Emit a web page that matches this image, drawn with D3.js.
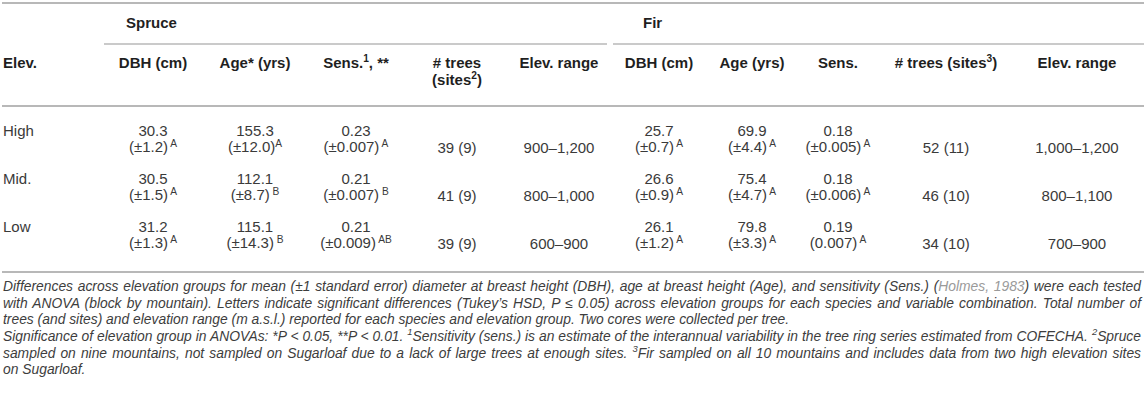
<!DOCTYPE html>
<html>
<head>
<meta charset="utf-8">
<script src="https://cdn.jsdelivr.net/npm/d3@7"></script>
<style>
  html, body { margin: 0; padding: 0; background: #fff; }
  svg { display: block; }
</style>
</head>
<body>
<svg id="chart" width="1144" height="400"></svg>
<script>
// ---------------- DATA ----------------
const elevGroups = ["High", "Mid.", "Low"];
const species = ["Spruce", "Fir"];

const spruceHeaders = [
  [{t: "DBH (cm)"}],
  [{t: "Age* (yrs)"}],
  [{t: "Sens."}, {t: "1", sup: true}, {t: ", **"}],
  [{t: "# trees"}],
  [{t: "Elev. range"}]
];
const spruceHeaders2 = [null, null, null, [{t: "(sites"}, {t: "2", sup: true}, {t: ")"}], null];
const firHeaders = [
  [{t: "DBH (cm)"}],
  [{t: "Age (yrs)"}],
  [{t: "Sens."}],
  [{t: "# trees (sites"}, {t: "3", sup: true}, {t: ")"}],
  [{t: "Elev. range"}]
];

const spruceDBH = [30.3, 30.5, 31.2];
const spruceDBHse = [1.2, 1.5, 1.3];
const spruceDBHltr = [" A", " A", " A"];
const spruceAge = [155.3, 112.1, 115.1];
const spruceAgeSe = [12.0, 8.7, 14.3];
const spruceAgeLtr = ["A", " B", " B"];
const spruceSens = [0.23, 0.21, 0.21];
const spruceSensSe = [0.007, 0.007, 0.009];
const spruceSensLtr = [" A", " B", " AB"];
const spruceTrees = [39, 41, 39];
const spruceSites = [9, 9, 9];
const spruceElev = ["900–1,200", "800–1,000", "600–900"];

const firDBH = [25.7, 26.6, 26.1];
const firDBHse = [0.7, 0.9, 1.2];
const firDBHltr = [" A", " A", " A"];
const firAge = [69.9, 75.4, 79.8];
const firAgeSe = [4.4, 4.7, 3.3];
const firAgeLtr = [" A", " A", " A"];
const firSens = [0.18, 0.18, 0.19];
const firSensSe = [0.005, 0.006, 0.007];
const firSensPm = ["±", "±", ""];
const firSensLtr = [" A", " A", " A"];
const firTrees = [52, 46, 34];
const firSites = [11, 10, 10];
const firElev = ["1,000–1,200", "800–1,100", "700–900"];

const footnoteLines = [
  {justify: true, segs: [{t: "Differences across elevation groups for mean (±1 standard error) diameter at breast height (DBH), age at breast height (Age), and sensitivity (Sens.) ("}, {t: "Holmes, 1983", link: true}, {t: ") were each tested"}]},
  {justify: true, segs: [{t: "with ANOVA (block by mountain). Letters indicate significant differences (Tukey’s HSD, P ≤ 0.05) across elevation groups for each species and variable combination. Total number of"}]},
  {justify: false, segs: [{t: "trees (and sites) and elevation range (m a.s.l.) reported for each species and elevation group. Two cores were collected per tree."}]},
  {justify: true, segs: [{t: "Significance of elevation group in ANOVAs: *P < 0.05, **P < 0.01. "}, {t: "1", sup: true}, {t: "Sensitivity (sens.) is an estimate of the interannual variability in the tree ring series estimated from COFECHA. "}, {t: "2", sup: true}, {t: "Spruce"}]},
  {justify: true, segs: [{t: "sampled on nine mountains, not sampled on Sugarloaf due to a lack of large trees at enough sites. "}, {t: "3", sup: true}, {t: "Fir sampled on all 10 mountains and includes data from two high elevation sites"}]},
  {justify: false, segs: [{t: "on Sugarloaf."}]}
];

// ---------------- LAYOUT / STYLE ----------------
const W = 1144;
const FONT = "'Liberation Sans', Arial, Helvetica, sans-serif";
const headColor = "#1f1f1f";
const cellColor = "#3a3a3a";
const ruleColor = "#b8b8b8";
const noteColor = "#3d3d3d";
const linkColor = "#9a9a9a";

const colKeys = ["s0", "s1", "s2", "s3", "s4", "f0", "f1", "f2", "f3", "f4"];
const x = d3.scaleOrdinal().domain(colKeys)
  .range([153, 255, 356, 457, 559, 659, 752, 838, 946, 1077]);
const rowY = d3.scalePoint().domain(elevGroups).range([131, 227]);

const svg = d3.select("#chart");
svg.append("rect").attr("width", W).attr("height", 400).attr("fill", "#fff");

function addSegs(textSel, segs, fs, raise) {
  raise = raise || 0.4;
  segs.forEach(s => {
    const ts = textSel.append("tspan").text(s.t);
    if (s.sup) {
      ts.attr("font-size", fs * 0.68).attr("dy", -fs * raise);
      ts.attr("data-sup", 1);
    } else if (s.link) {
      ts.attr("fill", linkColor);
    }
  });
  textSel.selectAll("tspan").each(function(d, i, nodes) {
    if (i > 0 && nodes[i - 1].getAttribute("data-sup") && !this.getAttribute("data-sup")) {
      d3.select(this).attr("dy", fs * raise);
    }
  });
}

// rules
const rules = svg.append("g").attr("stroke", ruleColor).attr("stroke-width", 2);
rules.append("line").attr("x1", 2).attr("x2", W).attr("y1", 3).attr("y2", 3);
rules.append("line").attr("x1", 104).attr("x2", 607).attr("y1", 44).attr("y2", 44).attr("stroke-width", 1.6);
rules.append("line").attr("x1", 613).attr("x2", W).attr("y1", 44).attr("y2", 44).attr("stroke-width", 1.6);
rules.append("line").attr("x1", 2).attr("x2", W).attr("y1", 106).attr("y2", 106);
rules.append("line").attr("x1", 2).attr("x2", W).attr("y1", 272).attr("y2", 272);

// header
const head = svg.append("g").attr("font-family", FONT).attr("font-weight", "bold")
  .attr("font-size", 15).attr("fill", headColor);
head.append("text").attr("x", 126).attr("y", 23).attr("dy", "0.36em").text(species[0]);
head.append("text").attr("x", 643).attr("y", 23).attr("dy", "0.36em").text(species[1]);
head.append("text").attr("x", 3).attr("y", 63).attr("dy", "0.36em").text("Elev.");

spruceHeaders.concat(firHeaders).forEach((segs, i) => {
  const t = head.append("text").attr("x", x(colKeys[i])).attr("y", 63).attr("dy", "0.36em")
    .attr("text-anchor", "middle");
  addSegs(t, segs, 15);
});
spruceHeaders2.forEach((segs, i) => {
  if (!segs) return;
  const t = head.append("text").attr("x", x(colKeys[i])).attr("y", 80).attr("dy", "0.36em")
    .attr("text-anchor", "middle");
  addSegs(t, segs, 15);
});

// body
const body = svg.append("g").attr("font-family", FONT).attr("font-size", 15).attr("fill", cellColor);
const f1 = d3.format(".1f"), f2 = d3.format(".2f"), f3 = d3.format(".3f");
const LS = 15.5;

function valueCell(key, i, val, fmtV, se, fmtSe, pm, ltr) {
  const cx = x(key), y = rowY(elevGroups[i]);
  body.append("text").attr("x", cx).attr("y", y).attr("dy", "0.36em").attr("text-anchor", "middle")
    .text(fmtV(val));
  const t = body.append("text").attr("x", cx).attr("y", y + LS).attr("dy", "0.36em").attr("text-anchor", "middle");
  addSegs(t, [{t: "(" + pm + fmtSe(se) + ")"}, {t: ltr, sup: true}], 15, 0.34);
}

elevGroups.forEach((g, i) => {
  const y = rowY(g);
  body.append("text").attr("x", 3).attr("y", y).attr("dy", "0.36em").text(g);

  valueCell("s0", i, spruceDBH[i], f1, spruceDBHse[i], f1, "±", spruceDBHltr[i]);
  valueCell("s1", i, spruceAge[i], f1, spruceAgeSe[i], f1, "±", spruceAgeLtr[i]);
  valueCell("s2", i, spruceSens[i], f2, spruceSensSe[i], f3, "±", spruceSensLtr[i]);
  body.append("text").attr("x", x("s3")).attr("y", y + 16.5).attr("dy", "0.36em").attr("text-anchor", "middle")
    .text(spruceTrees[i] + " (" + spruceSites[i] + ")");
  body.append("text").attr("x", x("s4")).attr("y", y + 16.5).attr("dy", "0.36em").attr("text-anchor", "middle")
    .text(spruceElev[i]);

  valueCell("f0", i, firDBH[i], f1, firDBHse[i], f1, "±", firDBHltr[i]);
  valueCell("f1", i, firAge[i], f1, firAgeSe[i], f1, "±", firAgeLtr[i]);
  valueCell("f2", i, firSens[i], f2, firSensSe[i], f3, firSensPm[i], firSensLtr[i]);
  body.append("text").attr("x", x("f3")).attr("y", y + 16.5).attr("dy", "0.36em").attr("text-anchor", "middle")
    .text(firTrees[i] + " (" + firSites[i] + ")");
  body.append("text").attr("x", x("f4")).attr("y", y + 16.5).attr("dy", "0.36em").attr("text-anchor", "middle")
    .text(firElev[i]);
});

// footnotes
const noteX0 = 3, noteX1 = 1141;
const noteY = d3.scalePoint().domain(d3.range(footnoteLines.length)).range([287, 370]);
const notes = svg.append("g").attr("font-family", FONT).attr("font-style", "italic").attr("fill", noteColor);

// fit font size so the widest justified line fills the measure naturally
let nfs = 13;
let wMax = 0;
footnoteLines.forEach(ln => {
  if (!ln.justify) return;
  const probe = notes.append("text").attr("font-size", nfs).attr("x", 0).attr("y", -50);
  addSegs(probe, ln.segs, nfs);
  wMax = Math.max(wMax, probe.node().getComputedTextLength());
  probe.remove();
});
nfs = nfs * (noteX1 - noteX0 - 2) / wMax;

footnoteLines.forEach((ln, i) => {
  const t = notes.append("text").attr("font-size", nfs).attr("x", noteX0).attr("y", noteY(i)).attr("dy", "0.3em");
  addSegs(t, ln.segs, nfs);
  if (ln.justify) {
    const w = t.node().getComputedTextLength();
    const full = ln.segs.map(s => s.t).join("");
    const spaces = (full.match(/ /g) || []).length;
    if (spaces > 0) t.style("word-spacing", ((noteX1 - noteX0 - w) / spaces) + "px");
  }
});
</script>
</body>
</html>
